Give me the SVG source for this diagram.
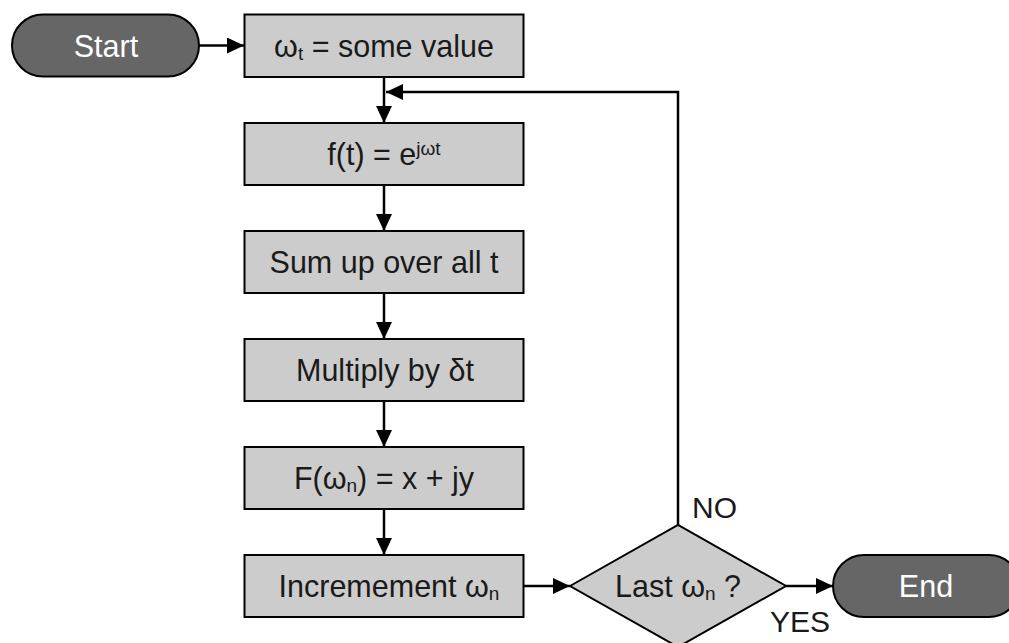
<svg xmlns="http://www.w3.org/2000/svg" width="1009" height="643" viewBox="0 0 1009 643">
<style>
.box{fill:#cccccc;stroke:#000;stroke-width:2}
.term{fill:#666666;stroke:#000;stroke-width:2}
.t{font-family:"Liberation Sans",Arial,sans-serif;font-size:30.5px;fill:#1a1a1a;text-anchor:middle}
.tw{font-family:"Liberation Sans",Arial,sans-serif;font-size:30.5px;fill:#ffffff;text-anchor:middle}
.lbl{font-family:"Liberation Sans",Arial,sans-serif;font-size:30px;fill:#1a1a1a}
.c{fill:none;stroke:#000;stroke-width:2.5}
</style>
<defs>
<marker id="arr" markerUnits="userSpaceOnUse" markerWidth="17" markerHeight="16" refX="17" refY="8" orient="auto">
<path d="M0,0 L17,8 L0,16 z" fill="#000"/>
</marker>
</defs>
<rect width="1009" height="643" fill="#fff"/>
<g id="connectors">
<path class="c" d="M199,45.5 H244" marker-end="url(#arr)"/>
<path class="c" d="M384,77 V123" marker-end="url(#arr)"/>
<path class="c" d="M384,185 V231" marker-end="url(#arr)"/>
<path class="c" d="M384,293 V339" marker-end="url(#arr)"/>
<path class="c" d="M384,401 V447" marker-end="url(#arr)"/>
<path class="c" d="M384,509 V555" marker-end="url(#arr)"/>
<path class="c" d="M524,586 H570" marker-end="url(#arr)"/>
<path class="c" d="M786,586 H833" marker-end="url(#arr)"/>
<path class="c" d="M678,525 V92 H386" marker-end="url(#arr)"/>
<text class="lbl" x="692" y="518">NO</text>
<text class="lbl" x="770" y="632">YES</text>
</g>
<g id="start">
<rect class="term" x="12" y="14.5" width="187" height="62" rx="31" ry="31"/>
<text class="tw" x="106" y="56.5">Start</text>
</g>
<g id="init">
<rect class="box" x="244.5" y="14.5" width="279" height="62.5"/>
<text class="t" x="384" y="56.5">ω<tspan font-size="19" dy="3">t</tspan><tspan dy="-3"> = some value</tspan></text>
</g>
<g id="ft">
<rect class="box" x="244.5" y="123" width="279" height="62"/>
<text class="t" x="384" y="165">f(t) = e<tspan font-size="19" dy="-10">jωt</tspan></text>
</g>
<g id="sum">
<rect class="box" x="244.5" y="231" width="279" height="62"/>
<text class="t" x="384" y="273">Sum up over all t</text>
</g>
<g id="mult">
<rect class="box" x="244.5" y="339" width="279" height="62"/>
<text class="t" x="385" y="381">Multiply by δt</text>
</g>
<g id="fw">
<rect class="box" x="244.5" y="447" width="279" height="62"/>
<text class="t" x="384" y="489">F(ω<tspan font-size="19" dy="3">n</tspan><tspan dy="-3">) = x + jy</tspan></text>
</g>
<g id="incr">
<rect class="box" x="244.5" y="555" width="279" height="62"/>
<text class="t" x="389" y="597">Incremement ω<tspan font-size="19" dy="3">n</tspan></text>
</g>
<g id="decision">
<polygon class="box" points="570,586 678,525 786,586 678,647"/>
<text class="t" x="678" y="597">Last ω<tspan font-size="19" dy="3">n</tspan><tspan dy="-3"> ?</tspan></text>
</g>
<g id="end">
<rect class="term" x="833" y="555" width="187" height="62" rx="31" ry="31"/>
<text class="tw" x="926" y="597">End</text>
</g>
</svg>
